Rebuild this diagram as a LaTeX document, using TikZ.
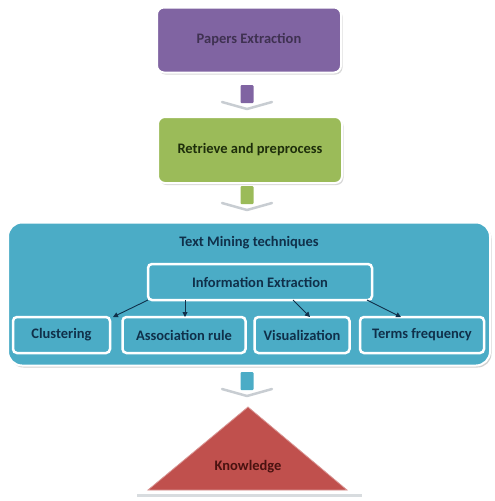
\documentclass[tikz,border=0pt]{standalone}
\usepackage{fontspec}
\setmainfont{Carlito}
\usetikzlibrary{arrows.meta,shadows}
\definecolor{pur}{HTML}{8064A2}
\definecolor{purtxt}{HTML}{3F3151}
\definecolor{grn}{HTML}{9BBB59}
\definecolor{grntxt}{HTML}{1E2E0B}
\definecolor{blu}{HTML}{4BACC6}
\definecolor{blutxt}{HTML}{10304A}
\definecolor{red1}{HTML}{C0504D}
\definecolor{redtxt}{HTML}{4A1210}
\definecolor{chev}{HTML}{C8CDD2}
\tikzset{
  lbl/.style={font=\bfseries\fontsize{14.5}{16}\selectfont},
  stagebox/.style={lbl, rounded corners=7pt, draw=white, line width=2pt, minimum width=184pt, minimum height=65pt, drop shadow={shadow xshift=1.5pt, shadow yshift=-2pt, fill=black!25, opacity=0.6}},
  innerbox/.style={lbl, rounded corners=4pt, draw=white, line width=2.5pt, fill=blu, text=blutxt, minimum height=36pt, inner xsep=2pt},
  conn/.style={-{Triangle[length=5pt,width=5pt]}, line width=0.9pt, draw=blutxt},
  chevline/.style={draw=chev, line width=2.5pt, line cap=round, line join=round},
}
\begin{document}
\begin{tikzpicture}[x=1pt,y=-1pt]
\useasboundingbox (0,0) rectangle (495,501);
% stage boxes
\node[stagebox, fill=pur, text=purtxt] (pe) at (249,40) {Papers Extraction};
\node[stagebox, fill=grn, text=grntxt, minimum height=66pt] (rp) at (250,150) {Retrieve and preprocess};
% big box
\node[rounded corners=14pt, draw=white, line width=2pt, fill=blu, minimum width=482pt, minimum height=143pt, drop shadow={shadow xshift=1.5pt, shadow yshift=-2pt, fill=black!30, opacity=0.6}] (tm) at (249,294) {};
\node[lbl, text=blutxt] (tmt) at (249,243) {Text Mining techniques};
\node[innerbox, minimum width=224pt] (ie) at (260,282) {Information Extraction};
\node[innerbox, minimum width=97pt] (cl) at (61.5,335) {Clustering};
\node[innerbox, minimum width=123pt] (ar) at (184,335) {Association rule};
\node[innerbox, minimum width=95pt] (vi) at (302,335) {Visualization};
\node[innerbox, minimum width=124pt] (tf) at (422,335) {Terms frequency};
% connectors
\coordinate (s1) at (148,300);
\coordinate (s2) at (185,300);
\coordinate (s3) at (293,300);
\coordinate (s4) at (367,300);
\coordinate (e1) at (113,317);
\coordinate (e2) at (185,317);
\coordinate (e3) at (310,317);
\coordinate (e4) at (401,317);
\draw[conn] (s1) -- (e1);
\draw[conn] (s2) -- (e2);
\draw[conn] (s3) -- (e3);
\draw[conn] (s4) -- (e4);
% down arrows
\foreach \y/\c in {85/pur, 186/grn, 372/blu}{
  \draw[chevline] (222,\y+17) -- (247,\y+24) -- (272,\y+17);
  \fill[\c, rounded corners=1pt] (240.5,\y) rectangle (253.5,\y+18);
}
% triangle
\fill[chev!70] (137,494) rectangle (362,497);
\fill[red1, draw=red1!60!white, line width=0.8pt] (248,407) -- (347,490) -- (148,490) -- cycle;
\node[lbl, text=redtxt] (knt) at (248,467) {Knowledge};
\end{tikzpicture}
\end{document}
